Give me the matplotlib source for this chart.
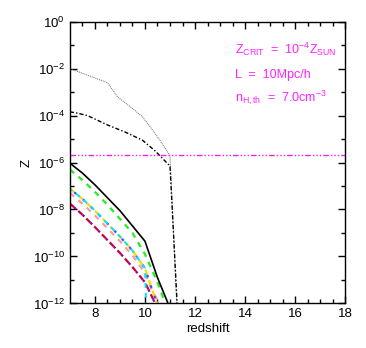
import numpy as np
import matplotlib
matplotlib.use('Agg')
from matplotlib import pyplot as plt

plt.rcParams['font.family'] = ['Liberation Sans', 'DejaVu Sans']
plt.rcParams['mathtext.fontset'] = 'custom'
plt.rcParams['mathtext.rm'] = 'Liberation Sans'

# redshift grid and log10(Z) values
z_dot = [7.0, 7.5, 8.0, 8.5, 8.9, 9.5, 9.9, 10.5, 11.0, 11.28]
logZ_dot = [-2.0, -2.2, -2.4, -2.6, -3.2, -3.7, -4.05, -4.9, -5.7, -12.3]

z_dashdot = [7.0, 7.3, 7.7, 8.5, 9.2, 9.9, 10.4, 11.0, 11.3]
logZ_dashdot = [-3.84, -3.9, -4.0, -4.4, -4.7, -5.05, -5.5, -6.15, -12.3]

z_black = [7.0, 7.5, 8.0, 8.5, 9.0, 9.5, 10.0, 10.5, 11.0]
logZ_black = [-6.03, -6.45, -6.95, -7.5, -8.05, -8.7, -9.35, -10.9, -12.2]

z_green = [7.0, 7.5, 8.0, 8.5, 9.0, 9.5, 10.0, 10.5, 10.88]
logZ_green = [-6.3, -6.75, -7.25, -7.8, -8.4, -9.0, -9.9, -11.1, -12.2]

z_cyan = [7.0, 7.5, 8.0, 8.5, 9.0, 9.5, 10.0, 10.05]
logZ_cyan = [-7.12, -7.55, -8.05, -8.6, -9.15, -9.75, -10.5, -12.2]

z_blue = [7.0, 7.5, 8.0, 8.5, 9.0, 9.5, 10.0, 10.25, 10.55]
logZ_blue = [-7.12, -7.55, -8.05, -8.6, -9.15, -9.75, -10.5, -11.3, -12.2]

z_salmon = [7.0, 7.5, 8.0, 8.5, 9.0, 9.5, 10.0, 10.3, 10.7]
logZ_salmon = [-7.3, -7.75, -8.25, -8.8, -9.35, -9.95, -10.7, -11.5, -12.2]

z_red = [7.0, 7.5, 8.0, 8.5, 9.0, 9.5, 10.0, 10.5]
logZ_red = [-7.75, -8.22, -8.75, -9.3, -9.85, -10.45, -11.1, -12.2]

Z_crit = 2e-6

fig = plt.figure(figsize=(3.66, 3.48), dpi=100)
ax = fig.add_axes([0.191, 0.128, 0.752, 0.81])

def draw(z, logz, **kw):
    ax.plot(z, 10.0 ** np.array(logz), **kw)

draw(z_dot, logZ_dot, color='0.4', lw=0.7, ls=(0, (1, 1)))
draw(z_dashdot, logZ_dashdot, color='black', lw=1.0, ls=(0, (3, 1.5, 1, 1.5)))
draw(z_red, logZ_red, color='#cc0033', lw=1.6, ls=(0, (2.5, 2.5)))
draw(z_red, logZ_red, color='#990099', lw=1.6, ls=(2.5, (1.2, 3.8)))
draw(z_salmon, logZ_salmon, color='#ff9999', lw=1.6, ls=(0, (2.5, 2.5)))
draw(z_blue, logZ_blue, color='#ffd700', lw=1.6, ls=(0, (2.5, 2.5)))
draw(z_blue, logZ_blue, color='#3355ff', lw=1.6, ls=(2.5, (1.2, 3.8)))
draw(z_cyan, logZ_cyan, color='#00e5ff', lw=1.4, ls=(1.0, (2.5, 2.5)))
draw(z_green, logZ_green, color='#22ee22', lw=1.6, ls=(0, (2.5, 2.5)))
draw(z_black, logZ_black, color='black', lw=1.2)
ax.axhline(Z_crit, color='#ee22ee', lw=1.0, ls=(0, (4, 1.5, 1, 1.5, 1, 1.5, 1, 1.5)))

ax.set_yscale('log')
ax.set_xlim(7, 18)
ax.set_ylim(1e-12, 1e0)

ax.set_xticks([8, 10, 12, 14, 16, 18])
ax.set_xticks(np.arange(7.5, 18, 0.5), minor=True)
yt = [10.0 ** k for k in range(-12, 1, 2)]
ax.set_yticks(yt)
ax.set_yticklabels(['10$^{%d}$' % k for k in range(-12, 1, 2)])
ax.set_yticks([10.0 ** k for k in range(-11, 0, 2)], minor=True)
ax.yaxis.set_minor_formatter(matplotlib.ticker.NullFormatter())
ax.tick_params(which='both', direction='in', top=True, right=True, labelsize=9.5, width=1.0)
ax.tick_params(which='major', length=5)
ax.tick_params(which='minor', length=3)
for s in ax.spines.values():
    s.set_linewidth(1.0)

ax.set_xlabel('redshift', fontsize=9.5, labelpad=2)
ax.set_ylabel('Z', fontsize=9.5, labelpad=0)

mag = '#ff22ff'
ax.text(0.6, 0.885, r'Z$_{\rm CRIT}$  =  10$^{-4}$Z$_{\rm SUN}$', transform=ax.transAxes, color=mag, fontsize=9)
ax.text(0.6, 0.80, 'L  =  10Mpc/h', transform=ax.transAxes, color=mag, fontsize=9)
ax.text(0.6, 0.715, r'n$_{\rm H,th}$  =  7.0cm$^{-3}$', transform=ax.transAxes, color=mag, fontsize=9)

fig.savefig('out.png', dpi=100)
